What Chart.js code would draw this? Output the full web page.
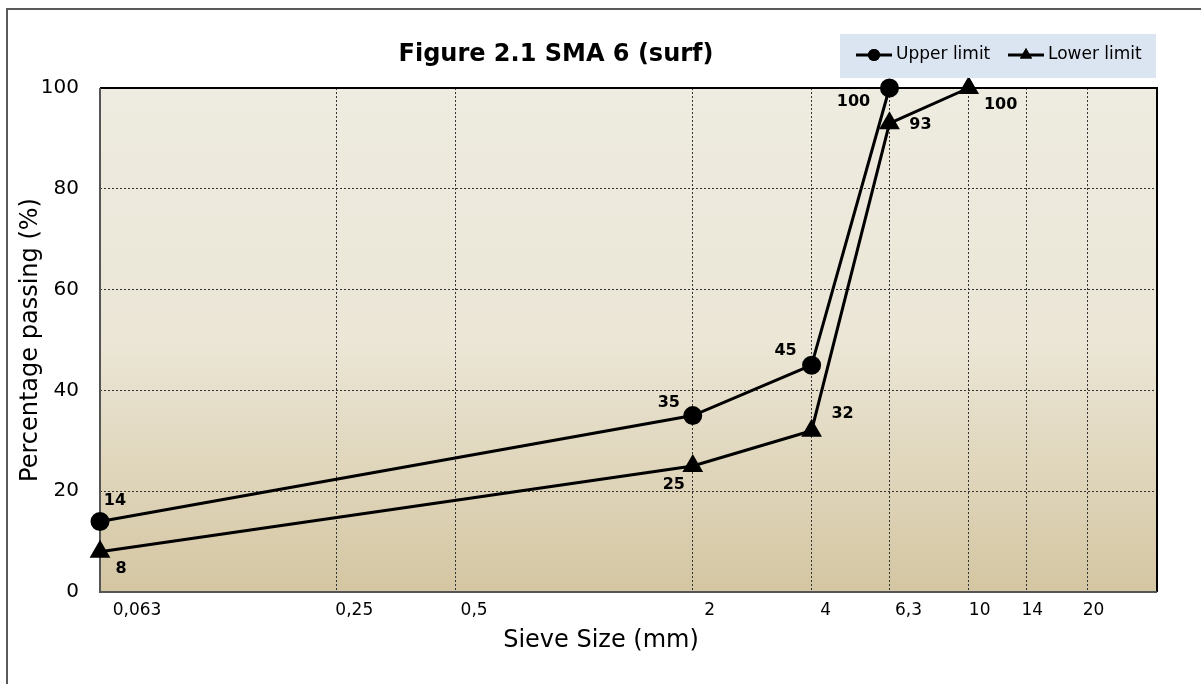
<!DOCTYPE html>
<html>
<head>
<meta charset="utf-8">
<script src="https://cdn.jsdelivr.net/npm/chart.js@4.4.1/dist/chart.umd.min.js"></script>
<style>
  body { margin: 0; background: #fff; }
  #wrap { position: relative; width: 1201px; height: 684px; }
</style>
</head>
<body>
<div id="wrap"><canvas id="sieve-chart" width="1201" height="684"></canvas></div>
<script>
// grading envelope
var upperSizes = [0.063, 2, 4, 6.3];
var upperValues = [14, 35, 45, 100];
var lowerSizes = [0.063, 2, 4, 6.3, 10];
var lowerValues = [8, 25, 32, 93, 100];

var tickValues = [0.063, 0.25, 0.5, 2, 4, 6.3, 10, 14, 20];
var tickLabels = ["0,063", "0,25", "0,5", "2", "4", "6,3", "10", "14", "20"];

var FONT = "'DejaVu Sans', Verdana, sans-serif";

function toPoints(xs, ys) {
    return xs.map(function(x, i) { return { x: x, y: ys[i] }; });
}

// label offsets (px) from each point
var labelOffsets = [
    [[15, -21], [-24, -13], [-26, -14], [-36, 14]],
    [[21, 17], [-19, 19], [31, -17], [31, 2], [32, 17]]
];
// x tick labels sit a little right of their gridline in the original
var tickShift = [37, 18, 19, 17, 14, 19, 11, 6, 6];

var chromePlugin = {
    id: 'chrome',
    beforeDraw: function(chart) {
        var ctx = chart.ctx, a = chart.chartArea;
        ctx.save();
        ctx.fillStyle = '#fff';
        ctx.fillRect(0, 0, chart.width, chart.height);
        // outer frame
        ctx.strokeStyle = '#595959';
        ctx.lineWidth = 2;
        ctx.strokeRect(7, 9, 1300, 800);
        // plot background
        var g = ctx.createLinearGradient(0, a.top, 0, a.bottom);
        g.addColorStop(0, '#EEEBE0');
        g.addColorStop(0.5, '#EBE6D6');
        g.addColorStop(1, '#D4C6A2');
        ctx.fillStyle = g;
        ctx.fillRect(a.left, a.top, a.right - a.left, a.bottom - a.top);
        ctx.restore();
    },
    beforeDatasetsDraw: function(chart) {
        var ctx = chart.ctx, a = chart.chartArea;
        ctx.save();
        ctx.lineWidth = 2;
        ctx.strokeStyle = '#000';
        ctx.beginPath();
        ctx.moveTo(a.left, a.top);
        ctx.lineTo(a.right, a.top);
        ctx.lineTo(a.right, a.bottom);
        ctx.stroke();
        ctx.strokeStyle = '#555';
        ctx.beginPath();
        ctx.moveTo(a.left, a.top);
        ctx.lineTo(a.left, a.bottom);
        ctx.lineTo(a.right, a.bottom);
        ctx.stroke();
        ctx.restore();
    },
    afterDraw: function(chart) {
        var ctx = chart.ctx;
        var xScale = chart.scales.x;
        ctx.save();
        ctx.fillStyle = '#000';
        // title
        ctx.font = 'bold 24px ' + FONT;
        ctx.textAlign = 'center';
        ctx.textBaseline = 'alphabetic';
        ctx.fillText('Figure 2.1 SMA 6 (surf)', 556, 61);
        // x tick labels
        ctx.font = '17px ' + FONT;
        ctx.textBaseline = 'middle';
        tickValues.forEach(function(v, i) {
            ctx.fillText(tickLabels[i], xScale.getPixelForValue(v) + tickShift[i], 611);
        });
        // x axis title
        ctx.font = '24px ' + FONT;
        ctx.fillText('Sieve Size (mm)', 601, 641);

        // legend
        ctx.fillStyle = '#DBE5F1';
        ctx.fillRect(840, 34, 316, 44);
        var items = [
            { x: 856, text: 'Upper limit', style: 'circle', r: 6 },
            { x: 1008, text: 'Lower limit', style: 'triangle', r: 7 }
        ];
        items.forEach(function(it) {
            ctx.strokeStyle = '#000';
            ctx.lineWidth = 3;
            ctx.beginPath();
            ctx.moveTo(it.x, 55);
            ctx.lineTo(it.x + 36, 55);
            ctx.stroke();
            ctx.fillStyle = '#000';
            Chart.helpers.drawPoint(ctx, { pointStyle: it.style, radius: it.r, borderWidth: 0 }, it.x + 18, 55);
            ctx.fill();
            ctx.font = '17px ' + FONT;
            ctx.textAlign = 'left';
            ctx.textBaseline = 'middle';
            ctx.fillText(it.text, it.x + 40, 55);
        });

        // data labels
        ctx.font = 'bold 16px ' + FONT;
        ctx.textAlign = 'center';
        ctx.textBaseline = 'middle';
        ctx.fillStyle = '#000';
        chart.data.datasets.forEach(function(ds, di) {
            var meta = chart.getDatasetMeta(di);
            meta.data.forEach(function(pt, i) {
                var off = labelOffsets[di][i];
                ctx.fillText(String(ds.data[i].y), pt.x + off[0], pt.y + off[1]);
            });
        });
        ctx.restore();
    }
};

var ctx = document.getElementById('sieve-chart').getContext('2d');
var sieveChart = new Chart(ctx, {
    type: 'scatter',
    data: {
        datasets: [{
            label: 'Upper limit',
            data: toPoints(upperSizes, upperValues),
            showLine: true,
            borderColor: '#000',
            backgroundColor: '#000',
            borderWidth: 3,
            pointStyle: 'circle',
            pointRadius: 8,
            pointHoverRadius: 8,
            clip: false
        }, {
            label: 'Lower limit',
            data: toPoints(lowerSizes, lowerValues),
            showLine: true,
            borderColor: '#000',
            backgroundColor: '#000',
            borderWidth: 3,
            pointStyle: 'triangle',
            pointRadius: 9,
            pointHoverRadius: 9,
            clip: false
        }]
    },
    options: {
        responsive: false,
        animation: false,
        layout: { padding: { left: 0, top: 88, right: 44, bottom: 0 } },
        plugins: {
            legend: { display: false },
            title: { display: false },
            tooltip: { enabled: false }
        },
        scales: {
            x: {
                type: 'logarithmic',
                min: 0.063,
                max: 30,
                afterBuildTicks: function(scale) {
                    scale.ticks = tickValues.map(function(v) { return { value: v }; });
                },
                afterFit: function(scale) { scale.height = 92; },
                border: { display: false, dash: [2, 2] },
                grid: {
                    color: '#333',
                    lineWidth: 1,
                    drawTicks: false
                },
                ticks: { display: false, autoSkip: false }
            },
            y: {
                min: 0,
                max: 100,
                afterFit: function(scale) { scale.width = 100; },
                border: { display: false, dash: [2, 2] },
                grid: {
                    color: '#333',
                    lineWidth: 1,
                    drawTicks: false
                },
                ticks: {
                    stepSize: 20,
                    padding: 21,
                    color: '#000',
                    font: { family: FONT, size: 20 }
                },
                title: {
                    display: true,
                    text: 'Percentage passing (%)',
                    color: '#000',
                    padding: { top: 16, bottom: 0 },
                    font: { family: FONT, size: 24 }
                }
            }
        }
    },
    plugins: [chromePlugin]
});
</script>
</body>
</html>
